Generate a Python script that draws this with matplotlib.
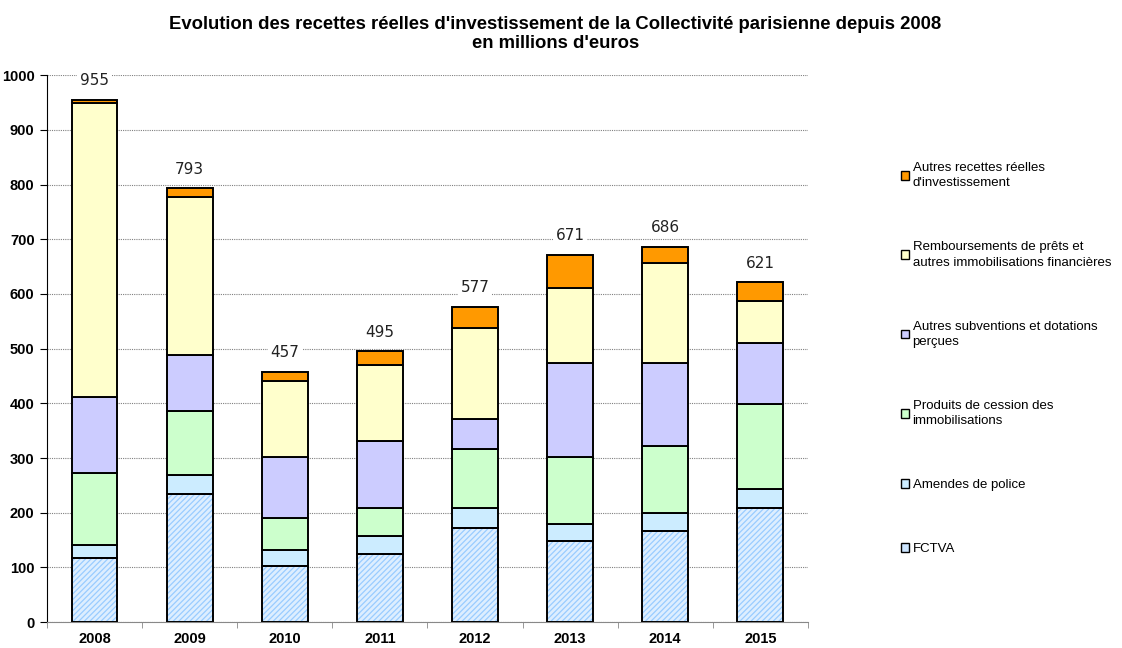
import numpy as np
import matplotlib.pyplot as plt
from matplotlib.patches import Patch

# data (millions d'euros)
years = ["2008", "2009", "2010", "2011", "2012", "2013", "2014", "2015"]
fctva = [117, 234, 102, 124, 172, 148, 166, 209]
amendes = [24, 35, 30, 33, 36, 32, 34, 35]
cessions = [131, 117, 58, 51, 108, 122, 122, 155]
subventions = [139, 102, 112, 123, 55, 171, 151, 112]
remboursements = [538, 289, 139, 139, 166, 137, 184, 76]
autres = [6, 16, 16, 25, 40, 61, 29, 34]
totals = [955, 793, 457, 495, 577, 671, 686, 621]

labels = ["FCTVA",
          "Amendes de police",
          "Produits de cession des\nimmobilisations",
          "Autres subventions et dotations\nperçues",
          "Remboursements de prêts et\nautres immobilisations financières",
          "Autres recettes réelles\nd'investissement"]
colors = ["#DDEEFF", "#CCECFF", "#CCFFCC", "#CCCCFF", "#FFFFCC", "#FF9900"]

plt.rcParams['font.family'] = ['Liberation Sans', 'DejaVu Sans']
plt.rcParams['hatch.linewidth'] = 0.9

fig = plt.figure(figsize=(11.22, 6.48), dpi=100)
ax = fig.add_axes([0.042, 0.04, 0.678, 0.844])

series = [fctva, amendes, cessions, subventions, remboursements, autres]
x = np.arange(len(years))
w = 0.48
bottom = np.zeros(len(years))
for i, (vals, col) in enumerate(zip(series, colors)):
    vals = np.array(vals, dtype=float)
    if i == 0:
        ax.bar(x, vals, w, bottom=bottom, color=col, edgecolor="#99CCFF",
               hatch="//////", linewidth=0, zorder=3)
        ax.bar(x, vals, w, bottom=bottom, fill=False, edgecolor="black",
               linewidth=1.4, zorder=4)
    else:
        ax.bar(x, vals, w, bottom=bottom, color=col, edgecolor="black",
               linewidth=1.4, zorder=3)
    bottom += vals

for xi, t in zip(x, totals):
    ax.text(xi, t + 35, str(t), ha="center", va="center", fontsize=11,
            family="DejaVu Sans", color="#222222", zorder=5,
            bbox=dict(facecolor="white", edgecolor="none", pad=2))

ax.set_xlim(-0.5, len(years) - 0.5)
ax.set_ylim(0, 1000)
ax.set_yticks(range(0, 1001, 100))
ax.yaxis.grid(True, linestyle=(0, (1, 1)), color="#808080", linewidth=0.8, zorder=0)
ax.set_axisbelow(True)

ax.set_xticks(x)
ax.set_xticklabels(years, fontsize=10.5, fontweight="bold")
ax.set_xticks(np.arange(-0.5, len(years)), minor=True)
ax.tick_params(axis="x", which="major", length=0, pad=7)
ax.tick_params(axis="x", which="minor", length=4, color="#888888", direction="out")
ax.tick_params(axis="y", length=5, direction="out", pad=4)
for lab in ax.get_yticklabels():
    lab.set_fontweight("bold")
    lab.set_fontsize(10.5)

ax.spines["top"].set_visible(False)
ax.spines["right"].set_visible(False)
ax.spines["bottom"].set_color("#888888")
ax.spines["left"].set_color("black")

handles = [Patch(facecolor=c, edgecolor="black", linewidth=1.0) for c in colors]
handles[0] = Patch(facecolor="#CCE5FF", edgecolor="black", linewidth=1.0)
leg = fig.legend(handles[::-1], labels[::-1], loc="upper left",
                 bbox_to_anchor=(0.798, 0.758), frameon=False, fontsize=9.5,
                 handlelength=0.65, handleheight=0.65, handletextpad=0.25,
                 labelspacing=3.95, borderaxespad=0)
for t in leg.get_texts():
    t.set_linespacing(1.35)

fig.text(0.495, 0.975, "Evolution des recettes réelles d'investissement de la Collectivité parisienne depuis 2008\nen millions d'euros",
         ha="center", va="top", fontsize=13.3, fontweight="bold", linespacing=1.12)

fig.savefig("out.png", dpi=100)
